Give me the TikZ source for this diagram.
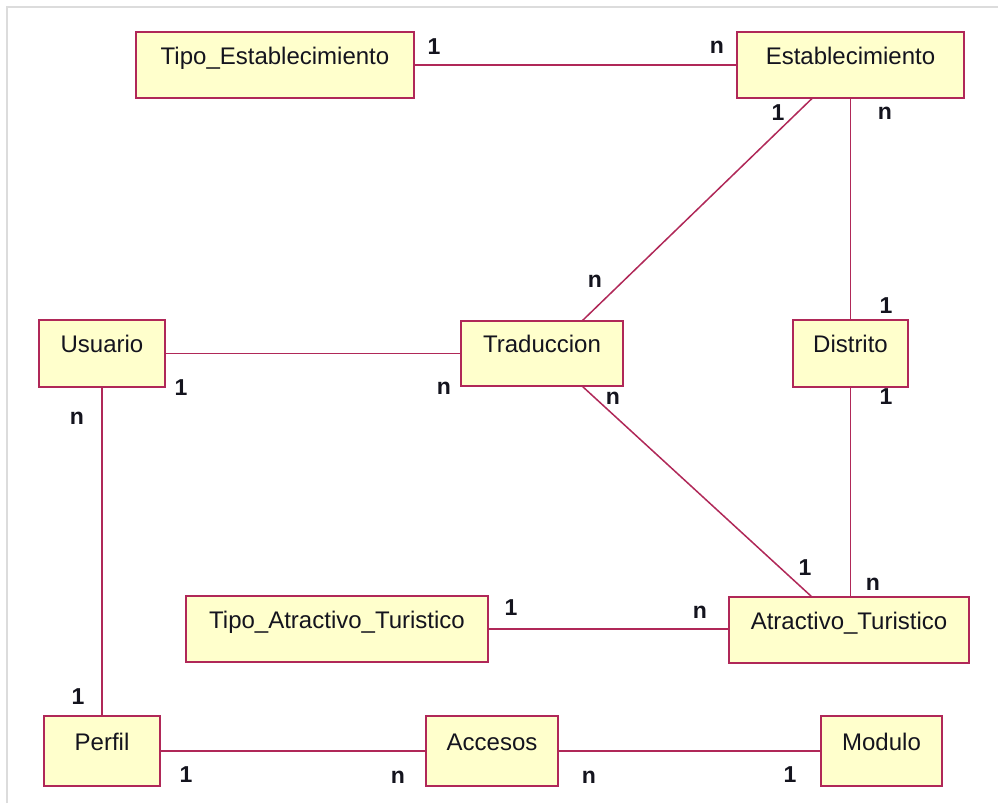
\documentclass[tikz,border=0pt]{standalone}
\usepackage{fontspec}
\setmainfont{Liberation Sans}
\definecolor{boxfill}{RGB}{255,255,204}
\definecolor{boxline}{RGB}{176,40,88}
\definecolor{textcol}{RGB}{20,20,30}
\definecolor{framegray}{RGB}{220,220,220}
\begin{document}
\begin{tikzpicture}[x=1pt,y=-1pt,
  ent/.style={draw=boxline, line width=2pt, fill=boxfill, anchor=north west,
    inner sep=0pt, outer sep=0pt, text=textcol,
    font=\fontsize{24}{28}\selectfont, text height=18pt, text depth=20pt},
  rel/.style={draw=boxline, line width=1.5pt},
  card/.style={text=textcol, inner sep=0pt, font=\fontsize{23}{27}\selectfont\bfseries}]
\useasboundingbox (0,0) rectangle (998,803);
\fill[white] (0,0) rectangle (998,803);
\coordinate (frTL) at (6.5,6.5);
\coordinate (frTR) at (998,6.5);
\coordinate (frBL) at (6.5,803);
\draw[framegray, line width=2pt] (frBL) -- (frTL) -- (frTR);

% entities
\node[ent, minimum width=278pt, minimum height=66pt] (TE) at (136,32) {Tipo\_Establecimiento};
\node[ent, minimum width=227pt, minimum height=66pt] (EST) at (737,32) {Establecimiento};
\node[ent, minimum width=126pt, minimum height=67pt] (USU) at (39,320) {Usuario};
\node[ent, minimum width=162pt, minimum height=65pt] (TRA) at (461,321) {Traduccion};
\node[ent, minimum width=115pt, minimum height=67pt] (DIS) at (793,320) {Distrito};
\node[ent, minimum width=302pt, minimum height=66pt] (TAT) at (186,596) {Tipo\_Atractivo\_Turistico};
\node[ent, minimum width=240pt, minimum height=66pt] (ATR) at (729,597) {Atractivo\_Turistico};
\node[ent, minimum width=116pt, minimum height=70pt] (PER) at (44,716) {Perfil};
\node[ent, minimum width=132pt, minimum height=70pt] (ACC) at (426,716) {Accesos};
\node[ent, minimum width=121pt, minimum height=70pt] (MOD) at (821,716) {Modulo};

% relationships
\draw[rel] (TE.east) -- (EST.west);
\draw[rel] ([xshift=-38pt]EST.south) -- ([xshift=40pt]TRA.north);
\draw[rel] (EST.south) -- (DIS.north);
\draw[rel] (USU.east) -- (TRA.west);
\draw[rel] (USU.south) -- (PER.north);
\draw[rel] ([xshift=40pt]TRA.south) -- ([xshift=-37pt]ATR.north);
\draw[rel] (DIS.south) -- (DIS.south |- ATR.north);
\draw[rel] (TAT.east) -- (TAT.east -| ATR.west);
\draw[rel] (PER.east) -- (ACC.west);
\draw[rel] (ACC.east) -- (MOD.west);

% cardinalities
\node[card] (c1) at (434,47) {1};
\node[card] (c2) at (717,47) {n};
\node[card] (c3) at (778,113) {1};
\node[card] (c4) at (885,113) {n};
\node[card] (c5) at (595,281) {n};
\node[card] (c6) at (886,306) {1};
\node[card] (c7) at (181,388) {1};
\node[card] (c8) at (444,388) {n};
\node[card] (c9) at (613,398) {n};
\node[card] (c10) at (886,397) {1};
\node[card] (c11) at (77,418) {n};
\node[card] (c12) at (805,568) {1};
\node[card] (c13) at (873,584) {n};
\node[card] (c14) at (511,608) {1};
\node[card] (c15) at (700,612) {n};
\node[card] (c16) at (78,697) {1};
\node[card] (c17) at (186,775) {1};
\node[card] (c18) at (398,777) {n};
\node[card] (c19) at (589,777) {n};
\node[card] (c20) at (790,775) {1};
\end{tikzpicture}
\end{document}
